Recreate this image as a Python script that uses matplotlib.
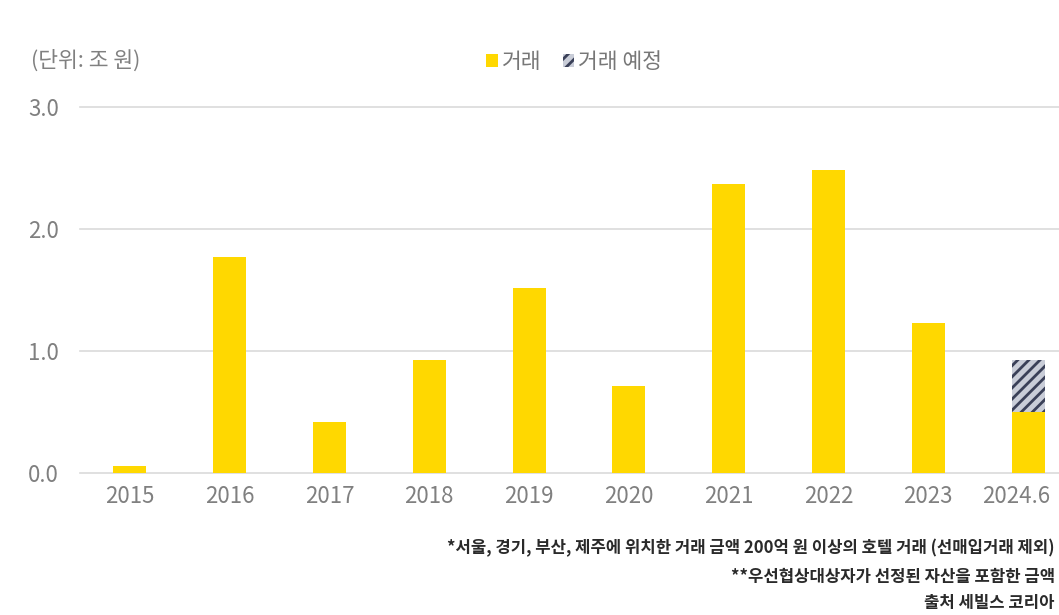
import numpy as np
import matplotlib.pyplot as plt
import matplotlib.transforms as mtransforms
from matplotlib.patches import Patch

plt.rcParams['font.family'] = ['Noto Sans CJK KR', 'DejaVu Sans']
plt.rcParams['hatch.linewidth'] = 2.0

# hotel transaction volume by year (unit: trillion won)
years = ["2015", "2016", "2017", "2018", "2019", "2020", "2021", "2022", "2023", "2024.6"]
closed = [0.06, 1.77, 0.42, 0.93, 1.52, 0.71, 2.37, 2.48, 1.23, 0.50]
pending = [0, 0, 0, 0, 0, 0, 0, 0, 0, 0.43]

footnotes = [
    "*서울, 경기, 부산, 제주에 위치한 거래 금액 200억 원 이상의 호텔 거래 (선매입거래 제외)",
    "**우선협상대상자가 선정된 자산을 포함한 금액",
    "출처 세빌스 코리아",
]

yellow = "#FFD800"
navy = "#3a4058"
stripe_bg = "#c9cdd8"
grey = "#808080"

fig = plt.figure(figsize=(10.59, 6.15), dpi=100)
ax = fig.add_axes([0.0755, 0.2309, 0.9245, 0.5951])

x = np.arange(len(years))
ax.bar(x, closed, width=0.33, color=yellow, zorder=3)
ax.bar(x, pending, width=0.33, bottom=closed, color=stripe_bg,
       edgecolor=navy, hatch="///", linewidth=0, zorder=3)

ax.set_ylim(0, 3.0)
ax.set_xlim(-0.5, 9.31)
ax.set_yticks([0, 1, 2, 3])
ax.set_yticklabels(["0.0", "1.0", "2.0", "3.0"])
ax.set_xticks(x)
ax.set_xticklabels(years)
ax.tick_params(length=0, labelsize=16, colors=grey)
ax.tick_params(axis="y", pad=15)
ax.tick_params(axis="x", pad=9)
ax.grid(axis="y", color="#dadada", linewidth=1.2, zorder=0)
for gl in ax.get_ygridlines():
    gl.set_clip_on(False)
for s in ax.spines.values():
    s.set_visible(False)

# last label sits at the right edge, pull it in a little
last = ax.get_xticklabels()[-1]
last.set_transform(last.get_transform() + mtransforms.ScaledTranslation(-12 / 100, 0, fig.dpi_scale_trans))

fig.text(0.029, 0.902, "(단위: 조 원)", fontsize=15.5, color=grey, va="center")

handles = [Patch(facecolor=yellow, label="거래"),
           Patch(facecolor=stripe_bg, edgecolor=navy, hatch="///", linewidth=0, label="거래 예정")]
fig.legend(handles=handles, loc="center", bbox_to_anchor=(0.542, 0.899), ncol=2,
           frameon=False, fontsize=15.5, handlelength=0.55, handleheight=0.55,
           handletextpad=0.15, columnspacing=1.0, labelcolor="#777777")

# footnotes, right-aligned to the figure edge
for note, y in zip(footnotes, [0.109, 0.062, 0.019]):
    fig.text(0.996, y, note, fontsize=12, color="#2a2a2a", va="center", ha="right", weight="bold")

fig.savefig("out.png", dpi=100, facecolor="white")
